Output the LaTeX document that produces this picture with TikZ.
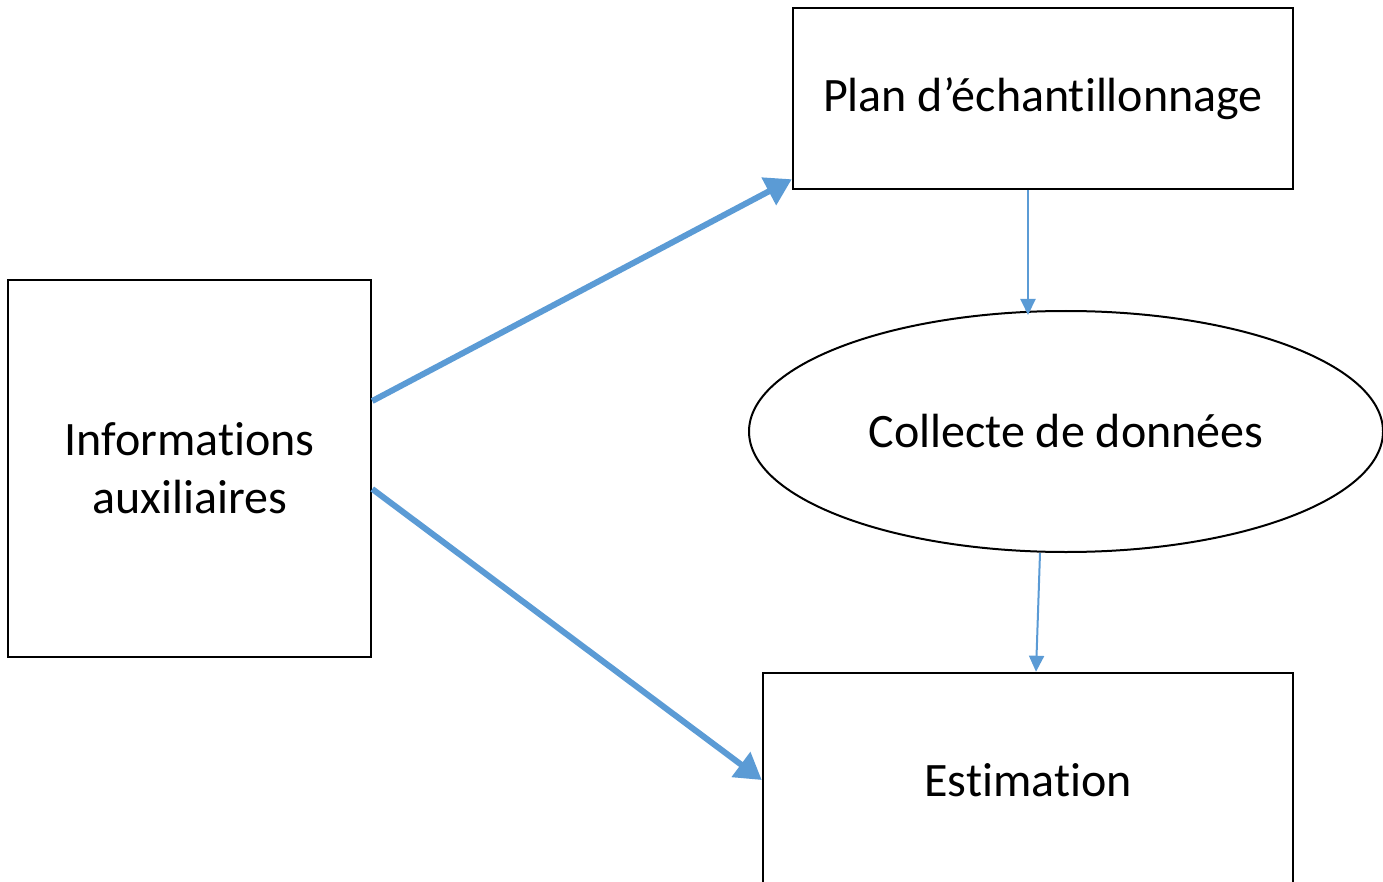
\documentclass[tikz,border=0pt]{standalone}
\usepackage{fontspec}
\setmainfont{Carlito}[Ligatures=NoCommon]
\usetikzlibrary{arrows.meta,shapes.geometric}
\definecolor{flowblue}{HTML}{5B9BD5}

\begin{document}
\begin{tikzpicture}[
                        x=1pt, y=-1pt,
                        font=\fontsize{48}{58}\selectfont,
                        block/.style={rectangle, draw, line width=2.5pt, align=center, inner sep=0pt},
                        bigarrow/.style={-{Triangle[length=26pt,width=30pt]}, flowblue, line width=6pt},
                        smallarrow/.style={-{Triangle[length=16pt,width=15pt]}, flowblue, line width=2pt}
                    ]
                    \useasboundingbox (0,0) rectangle (1383,882);
                    \clip (0,0) rectangle (1383,882);
                    % Blocks
                    \node [block, minimum width=363pt, minimum height=377pt] (info) at (189.5,468.5) {Informations\\auxiliaires};
                    \node [block, minimum width=500pt, minimum height=181pt] (plan) at (1043,98.5) {Plan d’échantillonnage};
                    \node [ellipse, draw, line width=2pt, minimum width=634pt, minimum height=241pt, inner sep=0pt] (collecte) at (1066,431.5) {Collecte de données};
                    \node [block, minimum width=530pt, minimum height=214pt] (estim) at (1028,780) {Estimation};

                    % Connections
                    \draw [bigarrow] ([yshift=67.5pt]info.east) -- ([yshift=11pt]plan.south west);
                    \draw [bigarrow] ([yshift=-20.5pt]info.east) -- (estim.west);
                    \draw [smallarrow] ([xshift=-15pt]plan.south) -- ([xshift=-38pt,yshift=-5pt]collecte.north);
                    \draw [smallarrow] ([xshift=-26pt]collecte.south) -- ([xshift=8pt]estim.north);
                \end{tikzpicture}
\end{document}
